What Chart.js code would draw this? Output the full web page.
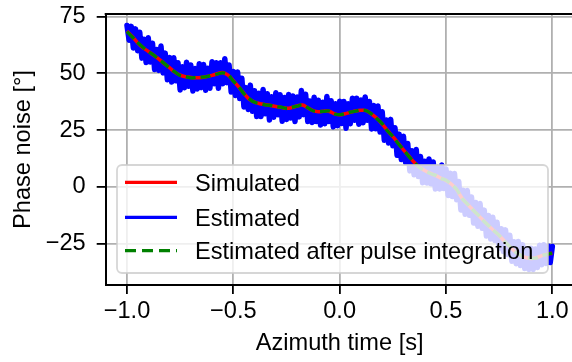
<!DOCTYPE html>
<html>
<head>
<meta charset="utf-8">
<script src="https://cdn.jsdelivr.net/npm/chart.js@4.4.0/dist/chart.umd.min.js"></script>
<style>
  html, body { margin: 0; padding: 0; background: #fff; overflow: hidden; }
  #wrap { width: 572px; height: 362px; overflow: hidden; }
</style>
</head>
<body>
<div id="wrap"><canvas id="chart" width="580" height="362" style="width:580px;height:362px"></canvas></div>
<script>
// Simulated phase noise, sampled every 0.025 s from -1 s to 1 s
var simulated = [
  68.6, 66.2, 63.5, 61.3, 59.7, 58.0, 56.3, 54.3, 52.5, 50.5,
  49.2, 48.5, 48.2, 48.1, 48.2, 48.6, 49.1, 49.8, 50.4, 49.2,
  46.8, 44.0, 41.2, 38.6, 37.3, 36.6, 36.2, 35.8, 35.4, 35.0,
  34.6, 34.9, 35.6, 36.0, 34.8, 33.6, 33.1, 33.3, 33.3, 32.2,
  31.7, 32.2, 32.8, 33.4, 33.7, 33.6, 32.0, 30.2, 27.6, 24.8,
  22.1, 19.3, 16.3, 13.6, 10.8, 8.6, 7.2, 6.0, 5.0, 3.8,
  2.8, 1.2, -1.2, -5.0, -7.6, -10.0, -12.4, -14.8, -17.2, -19.3,
  -21.5, -24.0, -26.4, -28.6, -30.2, -31.2, -31.6, -31.3, -30.4, -29.7,
  -29.3
];

// Estimated after pulse integration, same time grid
var pulseIntegrated = [
  68.4, 66.0, 63.6, 61.5, 59.6, 58.1, 56.1, 54.4, 52.3, 50.6,
  49.0, 48.6, 48.0, 48.2, 48.3, 48.5, 49.2, 49.7, 50.2, 49.4,
  46.6, 44.2, 41.0, 38.8, 37.2, 36.7, 36.1, 35.9, 35.3, 35.1,
  34.5, 35.0, 35.5, 36.1, 34.9, 33.5, 33.2, 33.2, 33.4, 32.1,
  31.8, 32.1, 32.9, 33.3, 33.8, 33.5, 32.1, 30.0, 27.8, 24.6,
  22.2, 19.1, 16.4, 13.4, 10.9, 8.5, 7.3, 5.9, 5.1, 3.7,
  2.9, 1.0, -1.1, -5.1, -7.5, -10.1, -12.3, -14.9, -17.1, -19.4,
  -21.4, -24.1, -26.3, -28.7, -30.1, -31.3, -31.5, -31.4, -30.3, -29.8,
  -29.2
];

// Estimated (noisy), sampled every 0.01 s from -1 s to 1 s
var estimated = [
  71.1, 64.6, 70.7, 61.2, 69.6, 60.0, 68.1, 56.7, 65.0, 54.8,
  65.7, 55.0, 63.3, 51.7, 60.5, 51.3, 62.0, 50.2, 58.9, 47.2,
  57.0, 46.2, 56.9, 46.7, 54.7, 42.7, 52.9, 43.6, 54.9, 44.3,
  53.7, 42.2, 52.1, 43.1, 54.2, 43.7, 53.9, 42.5, 52.2, 43.4,
  55.1, 45.4, 54.7, 43.4, 54.7, 45.4, 56.4, 45.9, 53.7, 41.8,
  50.8, 40.2, 50.6, 38.9, 47.8, 35.2, 43.7, 34.1, 44.8, 33.3,
  42.3, 31.0, 41.2, 31.0, 42.9, 32.2, 41.0, 29.4, 39.7, 30.6,
  41.4, 31.7, 40.6, 28.9, 39.3, 29.6, 40.7, 30.3, 40.0, 28.8,
  39.6, 30.8, 42.4, 31.8, 40.8, 28.8, 37.8, 28.3, 39.5, 28.8,
  38.1, 27.2, 37.3, 27.8, 39.8, 28.8, 37.9, 26.4, 36.6, 26.9,
  37.7, 27.9, 37.6, 25.8, 36.6, 27.8, 39.0, 29.3, 39.0, 27.6,
  38.2, 28.2, 39.6, 29.3, 37.6, 25.5, 35.8, 25.6, 35.6, 24.1,
  33.1, 20.5, 29.4, 19.3, 29.7, 18.1, 26.0, 13.9, 23.2, 12.0,
  22.3, 10.7, 19.1, 7.0, 15.9, 5.3, 16.4, 4.5, 13.3, 1.8,
  11.2, 1.7, 12.2, 1.3, 10.9, -1.0, 8.5, -1.0, 9.6, -0.8,
  7.8, -3.8, 6.0, -4.3, 5.8, -5.7, 2.3, -10.2, -1.5, -12.1,
  -1.6, -12.6, -4.5, -16.0, -6.9, -17.4, -7.4, -18.3, -10.3, -21.7,
  -12.7, -23.0, -13.4, -23.7, -15.6, -27.0, -18.5, -28.5, -19.0, -29.9,
  -21.4, -32.8, -24.2, -33.9, -24.1, -34.7, -25.6, -36.0, -27.3, -36.5,
  -27.1, -36.5, -27.4, -35.6, -25.8, -34.4, -25.6, -33.8, -26.1, -33.4,
  -26.3
];

var seriesLabels = ['Simulated', 'Estimated', 'Estimated after pulse integration'];
var xTicks = [-1.0, -0.5, 0.0, 0.5, 1.0];
var yTicks = [-25, 0, 25, 50, 75];

var simTime = simulated.map(function(v, i) { return -1 + i * 0.025; });
var estTime = estimated.map(function(v, i) { return -1 + i * 0.01; });

function toPoints(t, v) {
  return v.map(function(y, i) { return { x: t[i], y: y }; });
}

function signed(v, digits) {
  return (v < 0 ? '\u2212' : '') + Math.abs(v).toFixed(digits);
}

var FONT = "'Liberation Sans', Arial, sans-serif";
var FS = 23.6;

var colors = ['#ff0000', '#0000ff', '#008000'];

// box on top of the axes + legend with a translucent frame
var framePlugin = {
  id: 'frame',
  afterDraw: function(chart) {
    var ctx = chart.ctx;
    var a = chart.chartArea;
    ctx.save();
    ctx.strokeStyle = '#000';
    ctx.lineWidth = 2;
    ctx.beginPath();
    ctx.moveTo(a.left - 1, a.top);
    ctx.lineTo(a.right, a.top);
    ctx.lineTo(a.right, a.bottom);
    ctx.stroke();

    // legend
    var bx = 117, by = 165, bw = 431, bh = 108, r = 5;
    ctx.beginPath();
    ctx.moveTo(bx + r, by);
    ctx.arcTo(bx + bw, by, bx + bw, by + bh, r);
    ctx.arcTo(bx + bw, by + bh, bx, by + bh, r);
    ctx.arcTo(bx, by + bh, bx, by, r);
    ctx.arcTo(bx, by, bx + bw, by, r);
    ctx.closePath();
    ctx.fillStyle = 'rgba(255,255,255,0.8)';
    ctx.fill();
    ctx.strokeStyle = 'rgba(204,204,204,0.8)';
    ctx.lineWidth = 1.8;
    ctx.stroke();

    var rows = [182.3, 217.3, 250.7];
    ctx.font = FS + 'px ' + FONT;
    ctx.textBaseline = 'alphabetic';
    ctx.textAlign = 'left';
    for (var i = 0; i < seriesLabels.length; i++) {
      ctx.beginPath();
      ctx.strokeStyle = colors[i];
      ctx.lineWidth = 3.3;
      ctx.setLineDash(i === 2 ? [11, 6] : []);
      ctx.lineCap = 'butt';
      ctx.moveTo(125, rows[i]);
      ctx.lineTo(177, rows[i]);
      ctx.stroke();
      ctx.setLineDash([]);
      ctx.fillStyle = '#000';
      ctx.fillText(seriesLabels[i], 195, rows[i] + 8.4);
    }
    ctx.restore();
  }
};

var ctx = document.getElementById('chart').getContext('2d');
new Chart(ctx, {
  type: 'line',
  data: {
    datasets: [
      {
        label: seriesLabels[0],
        data: toPoints(simTime, simulated),
        borderColor: colors[0],
        borderWidth: 3.5,
        pointRadius: 0,
        tension: 0.4,
        order: 2
      },
      {
        label: seriesLabels[1],
        data: toPoints(estTime, estimated),
        borderColor: colors[1],
        borderWidth: 5.5,
        borderJoinStyle: 'round',
        borderCapStyle: 'round',
        pointRadius: 0,
        tension: 0,
        order: 3
      },
      {
        label: seriesLabels[2],
        data: toPoints(simTime, pulseIntegrated),
        borderColor: colors[2],
        borderWidth: 3.3,
        borderDash: [10, 5],
        pointRadius: 0,
        tension: 0.4,
        order: 1
      }
    ]
  },
  options: {
    responsive: false,
    animation: false,
    layout: { padding: { top: 14, right: 6.4, left: 0, bottom: 0 } },
    plugins: {
      legend: { display: false },
      tooltip: { enabled: false }
    },
    scales: {
      x: {
        type: 'linear',
        min: -1.1,
        max: 1.1,
        afterBuildTicks: function(s) { s.ticks = xTicks.map(function(v) { return { value: v }; }); },
        afterFit: function(s) { s.height = 77; s.paddingLeft = 0; s.paddingRight = 0; },
        grid: { color: '#b0b0b0', lineWidth: 1.8, tickColor: '#000', tickLength: 9, tickWidth: 1.8 },
        border: { color: '#000', width: 2 },
        ticks: {
          color: '#000',
          font: { family: FONT, size: FS },
          padding: 3,
          maxRotation: 0,
          callback: function(v) { return signed(v, 1); }
        },
        title: {
          display: true,
          text: 'Azimuth time [s]',
          color: '#000',
          font: { family: FONT, size: FS },
          padding: { top: 0, bottom: 4 }
        }
      },
      y: {
        min: -43.3,
        max: 76.15,
        afterBuildTicks: function(s) { s.ticks = yTicks.map(function(v) { return { value: v }; }); },
        afterFit: function(s) { s.width = 105.7; s.paddingTop = 0; s.paddingBottom = 0; },
        grid: { color: '#b0b0b0', lineWidth: 1.8, tickColor: '#000', tickLength: 9, tickWidth: 1.8 },
        border: { color: '#000', width: 2 },
        ticks: {
          color: '#000',
          font: { family: FONT, size: FS },
          padding: 11,
          callback: function(v) { return signed(v, 0); }
        },
        title: {
          display: true,
          text: 'Phase noise [°]',
          color: '#000',
          font: { family: FONT, size: FS },
          padding: { top: 9, bottom: 0 }
        }
      }
    }
  },
  plugins: [framePlugin]
});
</script>
</body>
</html>
